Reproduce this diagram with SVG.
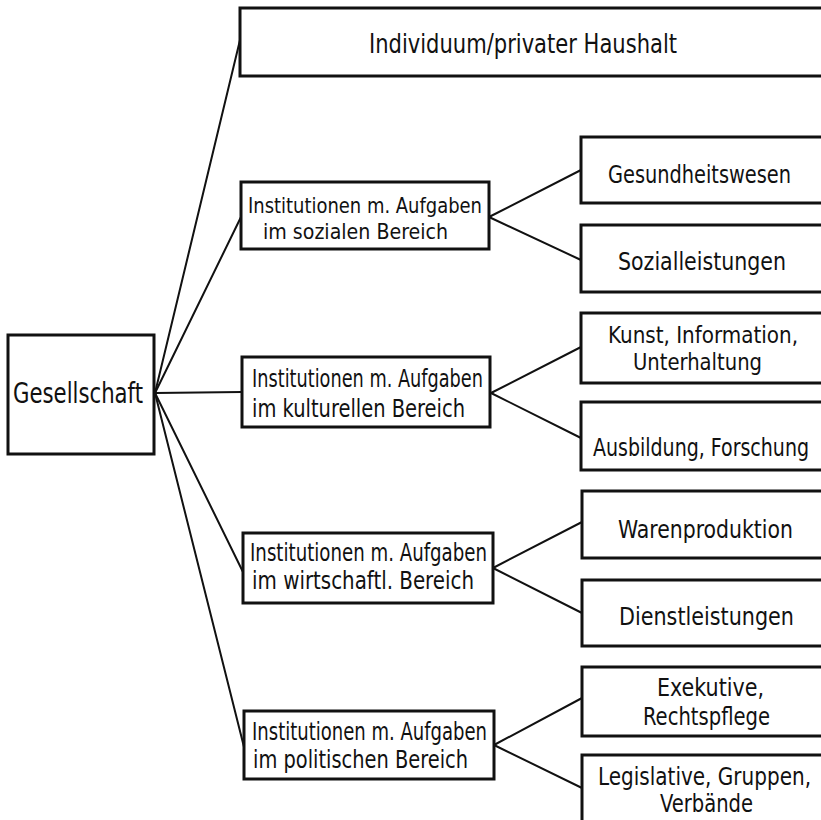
<svg xmlns="http://www.w3.org/2000/svg" width="821" height="820" viewBox="0 0 821 820">
<style>
.box{fill:#fff;stroke:#111;stroke-width:3}
.ln{stroke:#111;stroke-width:2;fill:none;stroke-linecap:round}
text{font-family:"DejaVu Sans Condensed","DejaVu Sans","Liberation Sans",sans-serif;fill:#111;font-size:24px}
.s{font-size:22px}
.r{font-size:25px}
.rs{font-size:23px}
.big{font-size:29px}
.top{font-size:26px}
</style>
<rect width="821" height="820" fill="#fff"/>
<g id="connectors">
<line class="ln" x1="155" y1="393" x2="240" y2="40"/>
<line class="ln" x1="155" y1="393" x2="241" y2="217"/>
<line class="ln" x1="155" y1="393" x2="242" y2="392"/>
<line class="ln" x1="155" y1="393" x2="243" y2="572"/>
<line class="ln" x1="155" y1="393" x2="244" y2="747"/>
<line class="ln" x1="489" y1="217" x2="581" y2="170"/>
<line class="ln" x1="489" y1="217" x2="581" y2="260"/>
<line class="ln" x1="491" y1="393" x2="581" y2="347"/>
<line class="ln" x1="491" y1="393" x2="581" y2="438"/>
<line class="ln" x1="493" y1="568" x2="582" y2="522"/>
<line class="ln" x1="493" y1="568" x2="582" y2="613"/>
<line class="ln" x1="494" y1="745" x2="582" y2="698"/>
<line class="ln" x1="494" y1="745" x2="582" y2="788"/>
</g>
<g id="individuum">
<rect class="box" x="240" y="8" width="600" height="68"/>
<text class="top" x="369" y="53" textLength="308" lengthAdjust="spacingAndGlyphs">Individuum/privater Haushalt</text>
</g>
<g id="gesellschaft">
<rect class="box" x="8" y="335" width="146" height="119"/>
<text class="big" x="13" y="403" textLength="130" lengthAdjust="spacingAndGlyphs">Gesellschaft</text>
</g>
<g id="sozial">
<rect class="box" x="241" y="182" width="248" height="67"/>
<text class="s" x="248" y="213" textLength="234" lengthAdjust="spacingAndGlyphs">Institutionen m. Aufgaben</text>
<text class="s" x="263" y="239" textLength="185" lengthAdjust="spacingAndGlyphs">im sozialen Bereich</text>
</g>
<g id="kulturell">
<rect class="box" x="242" y="357" width="248" height="70"/>
<text x="252" y="387" textLength="231" lengthAdjust="spacingAndGlyphs">Institutionen m. Aufgaben</text>
<text x="252" y="417" textLength="213" lengthAdjust="spacingAndGlyphs">im kulturellen Bereich</text>
</g>
<g id="wirtschaft">
<rect class="box" x="243" y="533" width="250" height="70"/>
<text x="250" y="561" textLength="237" lengthAdjust="spacingAndGlyphs">Institutionen m. Aufgaben</text>
<text x="252" y="589" textLength="222" lengthAdjust="spacingAndGlyphs">im wirtschaftl. Bereich</text>
</g>
<g id="politisch">
<rect class="box" x="244" y="711" width="250" height="68"/>
<text x="252" y="740" textLength="235" lengthAdjust="spacingAndGlyphs">Institutionen m. Aufgaben</text>
<text x="253" y="768" textLength="215" lengthAdjust="spacingAndGlyphs">im politischen Bereich</text>
</g>
<g id="gesundheitswesen">
<rect class="box" x="581" y="137" width="260" height="66"/>
<text class="r" x="608" y="183" textLength="183" lengthAdjust="spacingAndGlyphs">Gesundheitswesen</text>
</g>
<g id="sozialleistungen">
<rect class="box" x="581" y="225" width="260" height="67"/>
<text class="r" x="618" y="270" textLength="168" lengthAdjust="spacingAndGlyphs">Sozialleistungen</text>
</g>
<g id="kunst">
<rect class="box" x="581" y="313" width="260" height="70"/>
<text class="rs" x="608" y="343" textLength="190" lengthAdjust="spacingAndGlyphs">Kunst, Information,</text>
<text class="rs" x="633" y="370" textLength="129" lengthAdjust="spacingAndGlyphs">Unterhaltung</text>
</g>
<g id="ausbildung">
<rect class="box" x="581" y="402" width="260" height="68"/>
<text class="r" x="593" y="456" textLength="216" lengthAdjust="spacingAndGlyphs">Ausbildung, Forschung</text>
</g>
<g id="warenproduktion">
<rect class="box" x="582" y="491" width="260" height="67"/>
<text class="r" x="618" y="538" textLength="175" lengthAdjust="spacingAndGlyphs">Warenproduktion</text>
</g>
<g id="dienstleistungen">
<rect class="box" x="582" y="580" width="260" height="66"/>
<text class="r" x="619" y="625" textLength="175" lengthAdjust="spacingAndGlyphs">Dienstleistungen</text>
</g>
<g id="exekutive">
<rect class="box" x="582" y="667" width="260" height="69"/>
<text class="r" x="657" y="696" textLength="107" lengthAdjust="spacingAndGlyphs">Exekutive,</text>
<text class="r" x="643" y="725" textLength="127" lengthAdjust="spacingAndGlyphs">Rechtspflege</text>
</g>
<g id="legislative">
<rect class="box" x="582" y="755" width="260" height="80"/>
<text class="r" x="598" y="785" textLength="213" lengthAdjust="spacingAndGlyphs">Legislative, Gruppen,</text>
<text class="r" x="660" y="812" textLength="93" lengthAdjust="spacingAndGlyphs">Verbände</text>
</g>
</svg>
